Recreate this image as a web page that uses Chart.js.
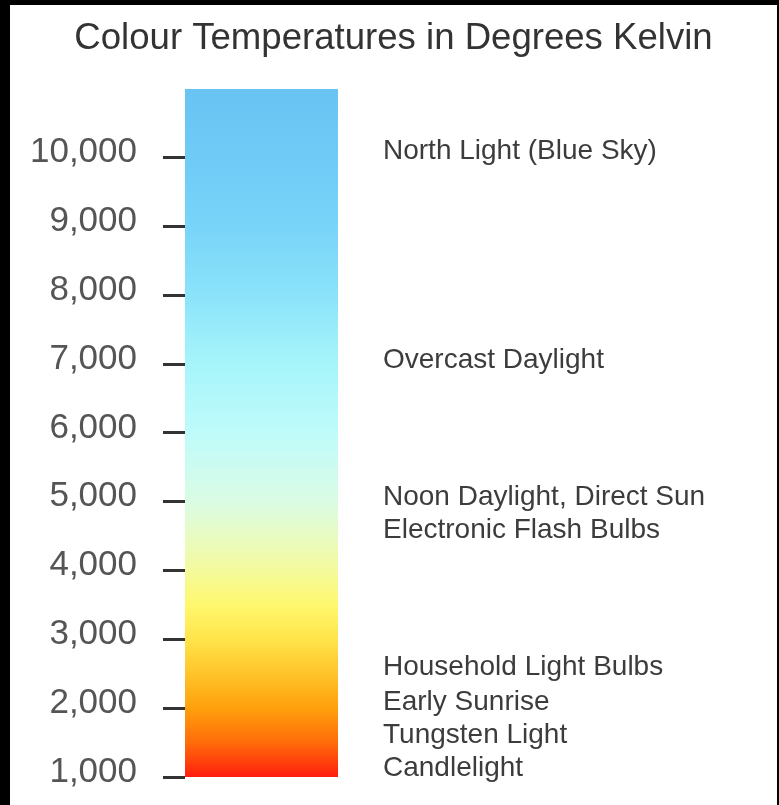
<!DOCTYPE html>
<html>
<head>
<meta charset="utf-8">
<script src="https://cdn.jsdelivr.net/npm/chart.js@4/dist/chart.umd.min.js"></script>
<style>
  html, body { margin: 0; padding: 0; background: #000; }
  #frame { position: absolute; left: 10px; top: 5px; width: 767px; height: 800px; background: #fff; }
  canvas { display: block; }
</style>
</head>
<body>
<div id="frame"><canvas id="kelvin" width="767" height="800"></canvas></div>
<script>
// scale range of the colour bar (Kelvin)
const barRange = [1000, 11000];
const tickValues = [1000, 2000, 3000, 4000, 5000, 6000, 7000, 8000, 9000, 10000];
const sourceNames = [
  "North Light (Blue Sky)",
  "Overcast Daylight",
  "Noon Daylight, Direct Sun",
  "Electronic Flash Bulbs",
  "Household Light Bulbs",
  "Early Sunrise",
  "Tungsten Light",
  "Candlelight",
];
const sourceKelvin = [10100, 7050, 5070, 4580, 2600, 2090, 1600, 1130];

// gradient stops: kelvin -> colour
const stopKelvin = [1000, 1500, 2000, 2500, 3000, 3500, 4000, 4500, 5000, 6000, 7000, 8000, 9000, 10000, 11000];
const stopColour = ["#ff1e0e", "#ff6c0a", "#ffa00c", "#ffc42a", "#ffe44a", "#fff86e", "#f4fa9c", "#e8fbc2",
  "#dafce4", "#bffbfb", "#a6f5fa", "#8be3fa", "#78d4f8", "#6fcbf6", "#69c3f3"];

const FONT = '"Liberation Sans", Arial, sans-serif';

function barGradient(context) {
  const chart = context.chart;
  const y = chart.scales.y;
  if (!chart.chartArea || !y) return stopColour[0];
  const y0 = y.getPixelForValue(barRange[0]);
  const y1 = y.getPixelForValue(barRange[1]);
  const g = chart.ctx.createLinearGradient(0, y0, 0, y1);
  stopKelvin.forEach((k, i) => {
    g.addColorStop((k - barRange[0]) / (barRange[1] - barRange[0]), stopColour[i]);
  });
  return g;
}

// light source names, placed at their kelvin value on the y scale
const sourceLabels = {
  id: "sourceLabels",
  afterDraw(chart) {
    const c = chart.ctx;
    const y = chart.scales.y;
    c.save();
    c.font = "28px " + FONT;
    c.fillStyle = "#3c3c3c";
    c.textAlign = "left";
    c.textBaseline = "middle";
    sourceNames.forEach((name, i) => {
      c.fillText(name, chart.chartArea.right + 45, y.getPixelForValue(sourceKelvin[i]));
    });
    c.restore();
  },
};

const ctx = document.getElementById("kelvin").getContext("2d");

new Chart(ctx, {
  type: "bar",
  data: {
    labels: ["Kelvin"],
    datasets: [
      {
        data: [barRange],
        backgroundColor: barGradient,
        borderWidth: 0,
        barPercentage: 1,
        categoryPercentage: 1,
      },
    ],
  },
  plugins: [sourceLabels],
  options: {
    responsive: false,
    animation: false,
    layout: { padding: { left: 0, right: 0, bottom: 28, top: 0 } },
    plugins: {
      legend: { display: false },
      tooltip: { enabled: false },
      title: {
        display: true,
        text: "Colour Temperatures in Degrees Kelvin",
        color: "#333",
        font: { family: FONT, size: 36.6, weight: "normal" },
        padding: { top: 12, bottom: 28 },
      },
    },
    scales: {
      x: { display: false },
      y: {
        position: "left",
        min: barRange[0],
        max: barRange[1],
        afterBuildTicks: (scale) => {
          scale.ticks = tickValues.map((v) => ({ value: v }));
        },
        afterFit: (scale) => {
          scale.width = 175;
          scale.paddingTop = 0;
          scale.paddingBottom = 0;
        },
        border: { display: false },
        grid: { drawOnChartArea: false, tickLength: 22, lineWidth: 3, color: "#333" },
        ticks: {
          padding: 26,
          labelOffset: -5,
          color: "#555",
          font: { family: FONT, size: 35 },
          callback: (v) => v.toLocaleString("en-US"),
        },
      },
      side: {
        position: "right",
        min: barRange[0],
        max: barRange[1],
        afterFit: (scale) => {
          scale.width = 439;
          scale.paddingTop = 0;
          scale.paddingBottom = 0;
        },
        border: { display: false },
        grid: { display: false, drawTicks: false },
        ticks: { display: false },
      },
    },
  },
});
</script>
</body>
</html>
